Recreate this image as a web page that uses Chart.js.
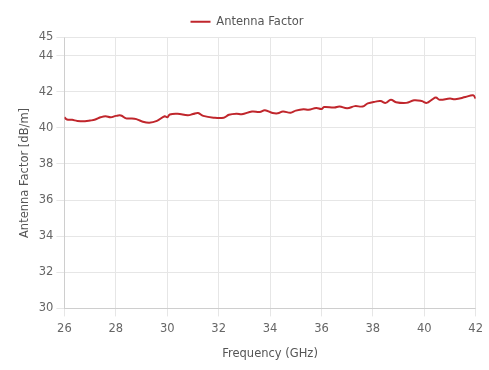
<!DOCTYPE html>
<html lang="en">
<head>
    <meta charset="UTF-8">
    <title>Antenna Factor</title>
    <script src="https://cdn.jsdelivr.net/npm/chart.js"></script>
    <style>
        html, body { margin: 0; padding: 0; background: #fff; }
    </style>
</head>
<body>
    <div style="width: 489px; height: 370px">
        <canvas id="myChart"></canvas>
    </div>
    <script>
        // Frequency points (GHz) and antenna factor (dB/m)
        const freqs = [
            26.0, 26.1, 26.3, 26.5, 26.8, 27.0, 27.2, 27.4, 27.6, 27.8,
            28.0, 28.2, 28.4, 28.6, 28.8, 29.0, 29.3, 29.6, 29.9, 30.0,
            30.1, 30.4, 30.8, 31.0, 31.2, 31.4, 31.8, 32.2, 32.4, 32.7,
            32.9, 33.3, 33.6, 33.8, 34.1, 34.3, 34.5, 34.8, 35.0, 35.3,
            35.5, 35.8, 36.0, 36.1, 36.5, 36.7, 37.0, 37.3, 37.6, 37.8,
            38.1, 38.3, 38.5, 38.7, 38.9, 39.3, 39.6, 39.9, 40.1, 40.3,
            40.45, 40.6, 41.0, 41.2, 41.6, 41.9, 42.0
        ];
        const antennaFactor = [
            40.58, 40.46, 40.44, 40.38, 40.36, 40.4, 40.46, 40.58, 40.64, 40.58,
            40.66, 40.68, 40.52, 40.52, 40.48, 40.36, 40.28, 40.38, 40.64, 40.58,
            40.74, 40.78, 40.7, 40.76, 40.82, 40.66, 40.56, 40.56, 40.72, 40.78,
            40.75, 40.9, 40.88, 40.97, 40.82, 40.8, 40.9, 40.84, 40.95, 41.03,
            41.0, 41.1, 41.04, 41.15, 41.12, 41.18, 41.08, 41.2, 41.18, 41.35,
            41.45, 41.48, 41.38, 41.55, 41.42, 41.38, 41.52, 41.48, 41.38, 41.56,
            41.68, 41.55, 41.62, 41.58, 41.7, 41.8, 41.62
        ];
        const yTicks = [30, 32, 34, 36, 38, 40, 42, 44, 45];

        Chart.defaults.font.family = "'DejaVu Sans', sans-serif";
        Chart.defaults.font.size = 11.5;
        Chart.defaults.color = '#666';

        const ctx = document.getElementById('myChart').getContext('2d');
        const myChart = new Chart(ctx, {
            type: 'line',
            data: {
                datasets: [{
                    label: 'Antenna Factor',
                    data: freqs.map((f, i) => ({ x: f, y: antennaFactor[i] })),
                    borderColor: '#c0262c',
                    backgroundColor: '#c0262c',
                    borderWidth: 2,
                    pointRadius: 0,
                    tension: 0.4,
                    fill: false
                }]
            },
            options: {
                responsive: true,
                maintainAspectRatio: false,
                animation: false,
                layout: {
                    padding: { left: 14, right: 9, top: 1, bottom: 5 }
                },
                plugins: {
                    legend: {
                        position: 'top',
                        labels: {
                            usePointStyle: true,
                            pointStyle: 'line',
                            pointStyleWidth: 20,
                            boxHeight: 12,
                            color: '#555',
                            padding: 15
                        }
                    },
                    tooltip: { enabled: false }
                },
                scales: {
                    x: {
                        type: 'linear',
                        min: 26,
                        max: 42,
                        ticks: { stepSize: 2, padding: 6 },
                        grid: { color: '#e6e6e6' },
                        title: {
                            display: true,
                            text: 'Frequency (GHz)',
                            color: '#555',
                            padding: { top: 5 }
                        }
                    },
                    y: {
                        min: 30,
                        max: 45,
                        afterBuildTicks: (axis) => {
                            axis.ticks = yTicks.map(v => ({ value: v }));
                        },
                        grid: { color: '#e6e6e6' },
                        title: {
                            display: true,
                            text: 'Antenna Factor [dB/m]',
                            color: '#555'
                        }
                    }
                }
            }
        });
    </script>
</body>
</html>
